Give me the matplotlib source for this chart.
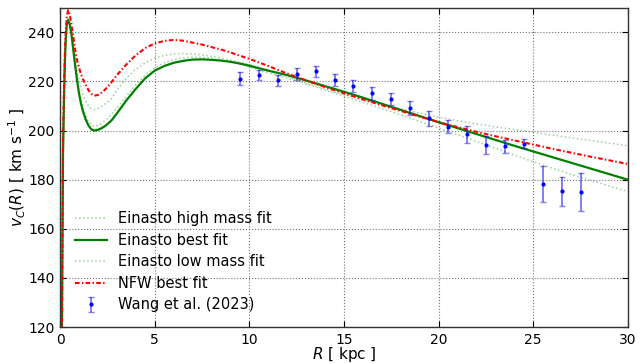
import matplotlib
matplotlib.use("Agg")
import matplotlib.pyplot as plt

# ---- model curves ----
R_best = [0, 0.15, 0.2, 0.25, 0.3, 0.35, 0.42, 0.5, 0.6, 0.7, 0.8, 0.9, 1.0, 1.1, 1.2, 1.35, 1.5, 1.65, 1.8,
          2.0, 2.2, 2.4, 2.7, 3.0, 3.5, 4.0, 4.5, 5.0, 5.5, 6.0, 6.5, 7.0, 7.5, 8.0, 8.5, 9.0, 9.5, 10,
          11, 12, 13, 14, 15, 16, 17, 18, 19, 20, 21, 22, 23, 24, 25, 26, 27, 28, 29, 30]
v_best = [0, 190, 212, 228, 238, 243, 245, 243.5, 239, 232.5, 226, 220, 215, 211, 208, 204.5, 202, 200.5, 200,
          200.3, 201.0, 202.0, 204.0, 207.0, 212.3, 217.0, 221.3, 224.4, 226.3, 227.6, 228.4, 228.9, 229.0,
          228.8, 228.5, 228.0, 227.3, 226.4, 224.4, 222.6, 220.4, 218.1, 215.8, 213.4, 210.9, 208.4, 205.9,
          203.4, 201.0, 198.6, 196.2, 193.8, 191.5, 189.2, 186.9, 184.6, 182.3, 180.0]

R_high = R_best
v_high = [0, 190, 213, 229, 239, 244, 246, 244.5, 240.5, 235, 229.5, 224.5, 220.5, 217, 214.5, 212, 210, 208.9,
          208.5, 209, 209.8, 211, 213, 216.5, 221.4, 225.0, 227.6, 229.5, 230.6, 231.2, 231.4, 231.2, 230.8,
          230.2, 229.5, 228.7, 227.8, 226.8, 224.5, 222.0, 219.4, 216.9, 214.6, 212.5, 210.6, 208.8, 207.1,
          205.5, 204.0, 202.7, 201.5, 200.4, 199.3, 198.2, 197.1, 196.0, 194.9, 193.8]

R_low = R_best
v_low = [0, 190, 212.5, 228.5, 238.5, 243.5, 245.5, 244, 239.5, 233.2, 227, 221.2, 216.3, 212.5, 209.5, 206.1,
         203.6, 202.2, 201.7, 202.1, 203.0, 204.2, 206.4, 209.2, 214.0, 218.6, 222.6, 225.6, 227.6, 228.9,
         229.6, 229.9, 229.8, 229.4, 228.8, 228.0, 227.0, 225.9, 223.6, 221.4, 219.0, 216.5, 214.0, 211.5,
         209.0, 206.4, 203.7, 201.0, 198.3, 195.6, 192.8, 190.0, 187.3, 184.7, 182.2, 179.8, 177.5, 175.2]

R_nfw = R_best
v_nfw = [0, 195, 217, 232, 241, 246.5, 249, 247.5, 243, 238, 232.5, 228.5, 225.6, 223.0, 221.0, 218.6, 216.4,
         215.0, 214.2, 214.5, 215.5, 216.9, 219.6, 222.6, 226.9, 230.7, 233.6, 235.5, 236.5, 236.9, 236.6,
         235.8, 235.0, 234.0, 233.0, 231.8, 230.5, 229.2, 226.3, 223.2, 220.4, 217.7, 215.2, 212.7, 210.3,
         208.0, 205.7, 203.4, 201.4, 199.5, 197.7, 196.0, 194.3, 192.6, 191.0, 189.4, 187.9, 186.4]

# ---- observational data (Wang et al. 2023) ----
R_obs = [9.5, 10.5, 11.5, 12.5, 13.5, 14.5, 15.5, 16.5, 17.5, 18.5, 19.5, 20.5, 21.5, 22.5, 23.5, 24.5,
         25.5, 26.5, 27.5]
v_obs = [221.2, 222.6, 220.4, 222.9, 224.1, 220.6, 218.1, 215.2, 213.0, 209.2, 205.0, 201.6, 198.4, 194.2,
         193.6, 194.6, 178.2, 175.2, 175.0]
e_obs = [2.6, 2.2, 2.3, 2.4, 2.3, 2.4, 2.5, 2.7, 2.5, 2.9, 3.1, 2.7, 3.4, 3.6, 2.7, 1.9, 7.4, 5.9, 7.8]

xticks = [0, 5, 10, 15, 20, 25, 30]
yticks = [120, 140, 160, 180, 200, 220, 240]

fig = plt.figure(figsize=(6.4, 3.64), dpi=100)
ax = fig.add_axes([0.094, 0.1016, 0.887, 0.877])

light = (0.0, 0.55, 0.0, 0.4)
ax.plot(R_high, v_high, ls=':', color=light, lw=1.1, label='Einasto high mass fit')
ax.plot(R_best, v_best, ls='-', color='green', lw=1.6, label='Einasto best fit')
ax.plot(R_low, v_low, ls=':', color=light, lw=1.1, label='Einasto low mass fit')
ax.plot(R_nfw, v_nfw, ls=(0, (2.2, 1.1, 0.7, 1.1)), color='red', lw=1.5, label='NFW best fit')
ax.errorbar(R_obs, v_obs, yerr=e_obs, fmt='.', color='blue', ms=4,
            ecolor=(0.1, 0.1, 0.85, 0.55), elinewidth=1.4, capsize=2.5, capthick=1.0,
            label='Wang et al. (2023)')

ax.set_xlim(0, 30)
ax.set_ylim(120, 250)
ax.set_xticks(xticks)
ax.set_yticks(yticks)
ax.tick_params(direction='in', top=True, right=True, labelsize=10, length=4, pad=4)
ax.grid(True, ls=':', color='0.45', lw=0.8)
for s in ax.spines.values():
    s.set_color('0.2')
    s.set_linewidth(1.0)

ax.set_xlabel(r'$R$ [ kpc ]', fontsize=11, labelpad=-1)
ax.set_ylabel(r'$v_C(R)$ [ km s$^{-1}$ ]', fontsize=11, labelpad=0)

leg = ax.legend(loc='lower left', bbox_to_anchor=(0.0, 0.0), frameon=False, fontsize=10.5,
                handlelength=2.2, labelspacing=0.45, borderaxespad=0.6)

fig.savefig('out.png', dpi=100)
